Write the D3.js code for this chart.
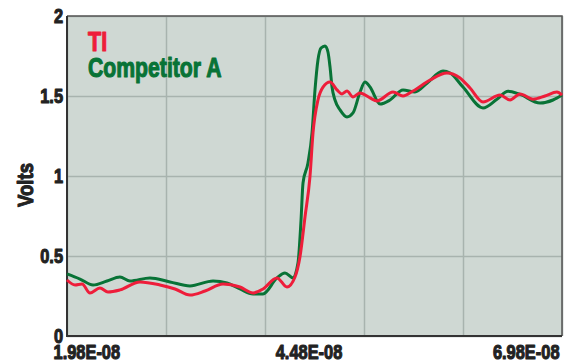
<!DOCTYPE html>
<html><head><meta charset="utf-8">
<script src="https://cdn.jsdelivr.net/npm/d3@7"></script>
<style>
html,body{margin:0;padding:0;background:#fff;}
svg{display:block;}
text{font-family:"Liberation Sans",Arial,sans-serif;font-weight:bold;}
</style></head>
<body>
<svg id="chart" width="568" height="364"></svg>
<script>
// time in ns
const tiTime = [19.80,20.61,21.32,22.12,23.13,23.94,25.15,27.17,29.19,30.71,32.22,33.74,35.56,37.27,38.59,39.60,41.01,42.02,42.83,43.33,43.84,44.34,44.65,45.15,45.66,46.37,47.07,47.58,48.08,48.69,49.40,50.41,51.11,52.73,53.74,54.75,56.47,58.18,59.50,60.51,61.82,63.54,64.55,65.56,66.87,68.08,69.29,69.80];
const tiVolts = [0.35,0.319,0.325,0.269,0.30,0.275,0.288,0.338,0.319,0.294,0.256,0.281,0.325,0.306,0.269,0.294,0.363,0.306,0.369,0.494,0.744,0.994,1.269,1.475,1.556,1.588,1.538,1.513,1.531,1.494,1.519,1.488,1.469,1.525,1.50,1.531,1.60,1.644,1.613,1.55,1.463,1.506,1.475,1.513,1.48,1.50,1.525,1.506];
const compTime = [19.80,21.11,22.43,23.84,25.15,26.16,28.18,30.20,32.22,34.55,35.96,37.27,38.59,39.60,41.01,41.82,42.63,43.13,43.44,43.64,44.14,44.55,44.85,45.15,45.46,45.86,46.16,46.37,46.57,46.87,47.38,48.08,48.69,49.40,49.90,50.41,51.42,52.43,53.74,54.95,56.16,57.78,58.49,59.80,61.82,63.23,64.35,65.56,67.58,68.89,69.80];
const compVolts = [0.388,0.356,0.319,0.344,0.369,0.344,0.363,0.338,0.313,0.344,0.331,0.294,0.263,0.263,0.363,0.394,0.363,0.456,0.725,0.956,1.081,1.269,1.538,1.725,1.80,1.813,1.775,1.68,1.556,1.475,1.413,1.369,1.394,1.525,1.588,1.556,1.45,1.475,1.538,1.525,1.58,1.656,1.644,1.556,1.425,1.48,1.53,1.51,1.456,1.475,1.506];
const seriesNames = ["TI","Competitor A"];
const seriesColors = ["#ee1d3a","#087336"];
const gridTimes = [19.8,29.8,39.8,49.8,59.8,69.8];
const xTickTimes = [19.8,44.8,69.8];
const xTickLabels = ["1.98E-08","4.48E-08","6.98E-08"];
const yTicks = [0,0.5,1,1.5,2];
const yTickLabels = ["0","0.5","1","1.5","2"];

const svg = d3.select("#chart");
const L=67,T=16,R=562,B=336;
const x = d3.scaleLinear().domain([19.8,69.8]).range([L,R]);
const y = d3.scaleLinear().domain([0,2]).range([B,T]);

svg.append("rect").attr("x",L).attr("y",T).attr("width",R-L).attr("height",B-T).attr("fill","#cfd8d3");

// grid
svg.append("g").attr("transform",`translate(0,${B})`)
  .call(d3.axisBottom(x).tickValues(gridTimes).tickSize(-(B-T)).tickFormat(""))
  .call(g=>{g.select(".domain").remove();g.selectAll("line").attr("stroke","#a8b3ae").attr("stroke-width",1.5);});
svg.append("g").attr("transform",`translate(${L},0)`)
  .call(d3.axisLeft(y).tickValues(yTicks).tickSize(-(R-L)).tickFormat(""))
  .call(g=>{g.select(".domain").remove();g.selectAll("line").attr("stroke","#a8b3ae").attr("stroke-width",1.5);});

// border
svg.append("path").attr("d",`M${L},${T}H${R}V${B}`).attr("fill","none").attr("stroke","#555").attr("stroke-width",1.5);
svg.append("path").attr("d",`M${L},${T}V${B}H${R}`).attr("fill","none").attr("stroke","#333").attr("stroke-width",2);

const line = d3.line().x(d=>x(d[0])).y(d=>y(d[1])).curve(d3.curveMonotoneX);
const comp = compTime.map((t,i)=>[t,compVolts[i]]);
const ti = tiTime.map((t,i)=>[t,tiVolts[i]]);
svg.append("path").datum(comp).attr("d",line).attr("fill","none").attr("stroke",seriesColors[1]).attr("stroke-width",3).attr("stroke-linejoin","round");
svg.append("path").datum(ti).attr("d",line).attr("fill","none").attr("stroke",seriesColors[0]).attr("stroke-width",3).attr("stroke-linejoin","round");

// y axis labels
svg.append("g").attr("transform",`translate(${L},0)`)
  .call(d3.axisLeft(y).tickValues(yTicks).tickSize(0).tickPadding(4).tickFormat((d,i)=>yTickLabels[i]))
  .call(g=>{g.select(".domain").remove();g.selectAll("text").attr("font-size",20).attr("fill","#222").attr("font-family",null).attr("dy","0.3em").attr("data-k",0.82);});

// x axis labels
const xOffsets=[-14,-6,-3];
const anchors=["start","middle","end"];
svg.append("g").attr("transform",`translate(0,${B})`)
  .call(d3.axisBottom(x).tickValues(xTickTimes).tickSize(0).tickPadding(0).tickFormat((d,i)=>xTickLabels[i]))
  .call(g=>{g.select(".domain").remove();g.selectAll("text").attr("font-size",20).attr("fill","#222").attr("font-family",null)
    .attr("y",23).attr("dy",0).attr("dx",(d,i)=>xOffsets[i]).attr("text-anchor",(d,i)=>anchors[i]).attr("data-k",0.82);});

svg.append("text").attr("transform","translate(33,185) rotate(-90)").attr("text-anchor","middle")
  .attr("font-size",22).attr("fill","#222").attr("data-k",0.84).text("Volts");

// legend
svg.append("text").attr("x",88).attr("y",51).attr("font-size",27).attr("fill",seriesColors[0]).attr("data-k",0.8).text(seriesNames[0]);
svg.append("text").attr("x",88).attr("y",77).attr("font-size",27).attr("fill",seriesColors[1]).attr("data-k",0.785).text(seriesNames[1]);

// condense all text (narrow heavy face emulation)
svg.selectAll("text").each(function(){
  const s=d3.select(this);
  const k=+(s.attr("data-k")||0.82);
  const w=this.getComputedTextLength();
  s.attr("textLength",(w*k).toFixed(1)).attr("lengthAdjust","spacingAndGlyphs")
   .attr("stroke",s.attr("fill")).attr("stroke-width",1.1).attr("stroke-linejoin","round");
});
</script>
</body></html>
